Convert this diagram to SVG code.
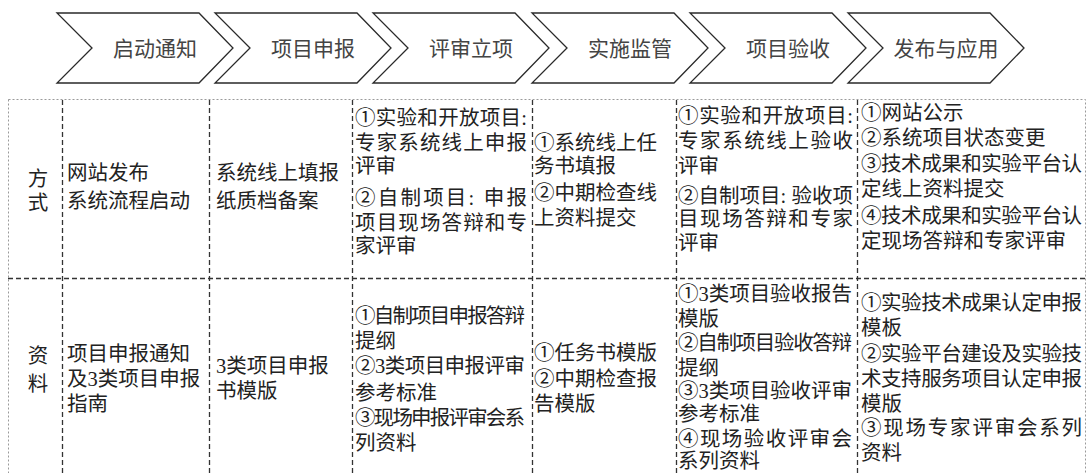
<svg xmlns="http://www.w3.org/2000/svg" width="1087" height="473" viewBox="0 0 1087 473">
<style>
.chev{fill:#fff;stroke:#2a2a2a;stroke-width:1.3}
.ct{font-family:"Liberation Serif","Noto Sans CJK SC",serif;font-size:21px;fill:#444;text-anchor:middle}
.t{font-family:"Liberation Serif","Noto Sans CJK SC",serif;font-size:20.5px;fill:#222}
.m{text-anchor:middle}
.outer{fill:none;stroke:#9a9a9a;stroke-width:1;stroke-dasharray:2 2}
.dash{stroke:#333;stroke-width:1.3;stroke-dasharray:5 3;fill:none}
</style>
<rect width="1087" height="473" fill="#fff"/>
<g id="steps">
<g id="step1"><path class="chev" d="M57,13 L199,13 L233,48 L199,83 L57,83 L92,48 Z"/><text class="ct" x="155" y="56">启动通知</text></g>
<g id="step2"><path class="chev" d="M215,13 L357,13 L391,48 L357,83 L215,83 L250,48 Z"/><text class="ct" x="313" y="56">项目申报</text></g>
<g id="step3"><path class="chev" d="M373,13 L515,13 L549,48 L515,83 L373,83 L408,48 Z"/><text class="ct" x="471" y="56">评审立项</text></g>
<g id="step4"><path class="chev" d="M532,13 L674,13 L708,48 L674,83 L532,83 L567,48 Z"/><text class="ct" x="630" y="56">实施监管</text></g>
<g id="step5"><path class="chev" d="M690,13 L832,13 L866,48 L832,83 L690,83 L725,48 Z"/><text class="ct" x="788" y="56">项目验收</text></g>
<g id="step6"><path class="chev" d="M848,13 L990,13 L1024,48 L990,83 L848,83 L883,48 Z"/><text class="ct" x="946" y="56">发布与应用</text></g>
</g>
<g id="grid">
<rect class="outer" x="8.5" y="99.5" width="1077" height="390"/>
<line class="dash" x1="8" y1="278.5" x2="1085" y2="278.5"/>
<line class="dash" x1="62.5" y1="100" x2="62.5" y2="473"/>
<line class="dash" x1="209.5" y1="100" x2="209.5" y2="473"/>
<line class="dash" x1="352.5" y1="100" x2="352.5" y2="473"/>
<line class="dash" x1="532.5" y1="100" x2="532.5" y2="473"/>
<line class="dash" x1="676.5" y1="100" x2="676.5" y2="473"/>
<line class="dash" x1="857.5" y1="100" x2="857.5" y2="473"/>
</g>
<g id="row-method">
<g id="label-method"><text class="t m" x="38" y="186">方</text><text class="t m" x="38" y="210">式</text></g>
<g id="method-notice"><text class="t" x="67" y="180">网站发布</text><text class="t" x="67" y="208">系统流程启动</text></g>
<g id="method-apply"><text class="t" x="216" y="180">系统线上填报</text><text class="t" x="216" y="208">纸质档备案</text></g>
<g id="method-review">
<text class="t" x="355" y="125" textLength="172" lengthAdjust="spacing">①实验和开放项目:</text>
<text class="t" x="355" y="150" textLength="172" lengthAdjust="spacing">专家系统线上申报</text>
<text class="t" x="355" y="173">评审</text>
<text class="t" x="355" y="205" textLength="172" lengthAdjust="spacing">②自制项目: 申报</text>
<text class="t" x="355" y="230" textLength="172" lengthAdjust="spacing">项目现场答辩和专</text>
<text class="t" x="355" y="253">家评审</text>
</g>
<g id="method-monitor">
<text class="t" x="534" y="150">①系统线上任</text>
<text class="t" x="534" y="173">务书填报</text>
<text class="t" x="534" y="200">②中期检查线</text>
<text class="t" x="534" y="225">上资料提交</text>
</g>
<g id="method-accept">
<text class="t" x="678" y="123" textLength="175" lengthAdjust="spacing">①实验和开放项目:</text>
<text class="t" x="678" y="148" textLength="175" lengthAdjust="spacing">专家系统线上验收</text>
<text class="t" x="678" y="173">评审</text>
<text class="t" x="678" y="203" textLength="175" lengthAdjust="spacing">②自制项目: 验收项</text>
<text class="t" x="678" y="226" textLength="175" lengthAdjust="spacing">目现场答辩和专家</text>
<text class="t" x="678" y="250">评审</text>
</g>
<g id="method-publish">
<text class="t" x="861" y="120">①网站公示</text>
<text class="t" x="861" y="145">②系统项目状态变更</text>
<text class="t" x="861" y="171" textLength="221" lengthAdjust="spacing">③技术成果和实验平台认</text>
<text class="t" x="861" y="196">定线上资料提交</text>
<text class="t" x="861" y="223" textLength="221" lengthAdjust="spacing">④技术成果和实验平台认</text>
<text class="t" x="861" y="248">定现场答辩和专家评审</text>
</g>
</g>
<g id="row-material">
<g id="label-material"><text class="t m" x="38" y="363">资</text><text class="t m" x="38" y="391">料</text></g>
<g id="material-notice"><text class="t" x="67" y="361">项目申报通知</text><text class="t" x="67" y="386">及3类项目申报</text><text class="t" x="67" y="411">指南</text></g>
<g id="material-apply"><text class="t" x="216" y="373">3类项目申报</text><text class="t" x="216" y="398">书模版</text></g>
<g id="material-review">
<text class="t" x="355" y="323" textLength="170" lengthAdjust="spacing">①自制项目申报答辩</text>
<text class="t" x="355" y="348">提纲</text>
<text class="t" x="355" y="373" textLength="170" lengthAdjust="spacing">②3类项目申报评审</text>
<text class="t" x="355" y="400">参考标准</text>
<text class="t" x="355" y="425" textLength="170" lengthAdjust="spacing">③现场申报评审会系</text>
<text class="t" x="355" y="450">列资料</text>
</g>
<g id="material-monitor">
<text class="t" x="534" y="360">①任务书模版</text>
<text class="t" x="534" y="386">②中期检查报</text>
<text class="t" x="534" y="411">告模版</text>
</g>
<g id="material-accept">
<text class="t" x="678" y="301" textLength="174" lengthAdjust="spacing">①3类项目验收报告</text>
<text class="t" x="678" y="326">模版</text>
<text class="t" x="678" y="350" textLength="174" lengthAdjust="spacing">②自制项目验收答辩</text>
<text class="t" x="678" y="375">提纲</text>
<text class="t" x="678" y="398" textLength="174" lengthAdjust="spacing">③3类项目验收评审</text>
<text class="t" x="678" y="421">参考标准</text>
<text class="t" x="678" y="446" textLength="174" lengthAdjust="spacing">④现场验收评审会</text>
<text class="t" x="678" y="468">系列资料</text>
</g>
<g id="material-publish">
<text class="t" x="861" y="310" textLength="221" lengthAdjust="spacing">①实验技术成果认定申报</text>
<text class="t" x="861" y="335">模板</text>
<text class="t" x="861" y="361" textLength="221" lengthAdjust="spacing">②实验平台建设及实验技</text>
<text class="t" x="861" y="386" textLength="221" lengthAdjust="spacing">术支持服务项目认定申报</text>
<text class="t" x="861" y="411">模版</text>
<text class="t" x="861" y="435" textLength="221" lengthAdjust="spacing">③现场专家评审会系列</text>
<text class="t" x="861" y="460">资料</text>
</g>
</g>
</svg>
